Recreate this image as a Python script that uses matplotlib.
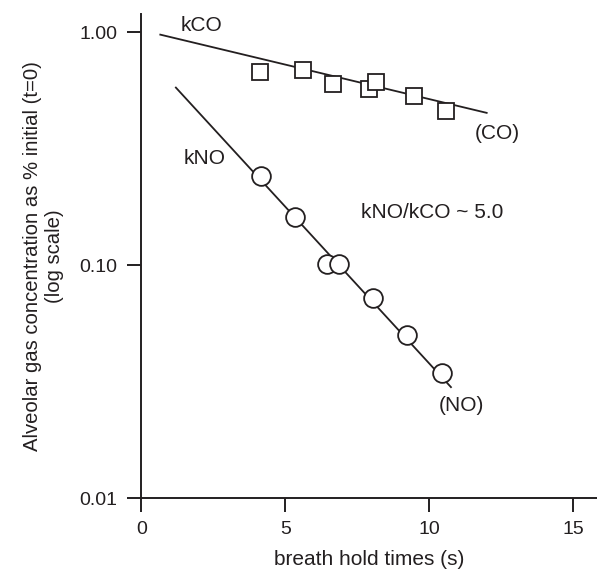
import numpy as np
import matplotlib
matplotlib.use("Agg")
import matplotlib.pyplot as plt
from matplotlib.ticker import FixedLocator, FixedFormatter, NullLocator

plt.rcParams['font.family'] = ['Liberation Sans', 'DejaVu Sans']

# CO (squares)
co_t = [4.12, 5.62, 6.65, 7.92, 8.15, 9.48, 10.58]
co_y = [0.676, 0.687, 0.602, 0.573, 0.612, 0.531, 0.459]
co_fit_t = [0.66, 11.99]
co_fit_y = [0.977, 0.451]

# NO (circles)
no_t = [4.14, 5.34, 6.44, 6.86, 8.03, 9.23, 10.44]
no_y = [0.241, 0.161, 0.1017, 0.1015, 0.0726, 0.050, 0.0345]
no_fit_t = [1.2, 10.75]
no_fit_y = [0.579, 0.030]

x_ticks = [0, 5, 10, 15]
y_ticks = [0.01, 0.10, 1.00]
y_tick_labels = ['0.01', '0.10', '1.00']

ink = '#231f20'

fig = plt.figure(figsize=(5.97, 5.70), dpi=100)
ax = fig.add_axes([141.3 / 597, 71.7 / 570, (597 - 141.3) / 597, (498.3 - 14) / 570])
ax.set_yscale('log')
ax.set_xlim(0, 15.82)
ax.set_ylim(0.01, 1.198)

ax.plot(co_fit_t, co_fit_y, color=ink, lw=1.3, zorder=2)
ax.plot(no_fit_t, no_fit_y, color=ink, lw=1.3, zorder=2)
ax.plot(co_t, co_y, ls='none', marker='s', ms=11, mfc='white', mec=ink, mew=1.3, zorder=3)
ax.plot(no_t, no_y, ls='none', marker='o', ms=13.5, mfc='white', mec=ink, mew=1.3, zorder=3)

fs = 15
ax.text(1.35, 1.07, 'kCO', fontsize=fs, color=ink, va='center', ha='left')
ax.text(1.46, 0.288, 'kNO', fontsize=fs, color=ink, va='center', ha='left')
ax.text(11.59, 0.369, '(CO)', fontsize=fs, color=ink, va='center', ha='left')
ax.text(7.62, 0.169, 'kNO/kCO ~ 5.0', fontsize=fs, color=ink, va='center', ha='left')
ax.text(10.34, 0.0251, '(NO)', fontsize=fs, color=ink, va='center', ha='left')

for s in ['top', 'right']:
    ax.spines[s].set_visible(False)
for s in ['left', 'bottom']:
    ax.spines[s].set_linewidth(1.4)
    ax.spines[s].set_color(ink)

ax.xaxis.set_major_locator(FixedLocator(x_ticks))
ax.yaxis.set_major_locator(FixedLocator(y_ticks))
ax.yaxis.set_major_formatter(FixedFormatter(y_tick_labels))
ax.yaxis.set_minor_locator(NullLocator())
ax.tick_params(axis='both', which='major', direction='out', length=10, width=1.4,
               color=ink, labelcolor=ink, labelsize=14, pad=6)
ax.tick_params(axis='y', pad=7)

ax.set_xlabel('breath hold times (s)', fontsize=fs, color=ink, labelpad=9)
ax.set_ylabel('Alveolar gas concentration as % initial (t=0)\n(log scale)',
              fontsize=14.6, color=ink, labelpad=11, linespacing=1.2)

fig.savefig('out.png', dpi=100)
